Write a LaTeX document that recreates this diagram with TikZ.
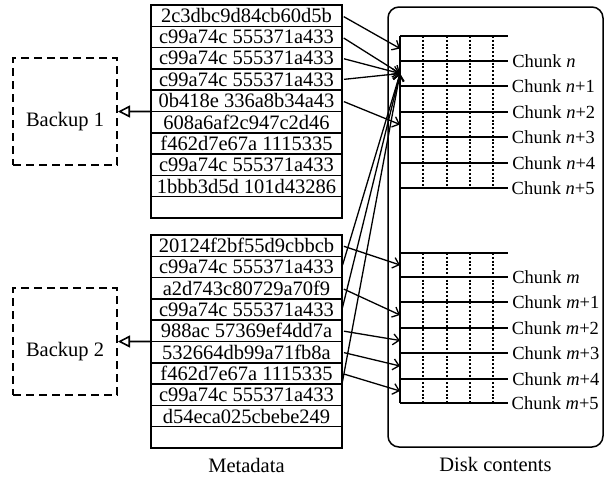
\documentclass[tikz,border=0pt]{standalone}
\usepackage{fontspec}
\setmainfont{Liberation Serif}
\usetikzlibrary{positioning, arrows.meta, calc}

\begin{document}
\begin{tikzpicture}[
        x=1pt, y=-1pt,
        font=\fontsize{20.5pt}{24pt}\selectfont,
        metarow/.style={rectangle, draw=black, line width=1.5pt, minimum width=191pt, minimum height=21.3pt, inner sep=0pt, outer sep=0pt},
        backupbox/.style={rectangle, draw=black, line width=2pt, dash pattern=on 8pt off 5pt, minimum width=104pt, minimum height=107pt},
        diskbox/.style={rectangle, rounded corners=11pt, draw=black, line width=1.5pt, minimum width=215pt, minimum height=440pt, outer sep=0pt},
        chunklbl/.style={anchor=west, inner sep=3pt, font=\fontsize{18.5pt}{22pt}\selectfont},
        thinline/.style={line width=1.4pt},
        thickline/.style={line width=2.6pt},
        midline/.style={line width=1.9pt},
        dotline/.style={line width=2.4pt, dash pattern=on 2pt off 1.8pt},
        arr/.style={-{Straight Barb[length=6pt, width=11pt]}, line width=1.3pt, shorten <=2pt},
        backarr/.style={-{Triangle[open, length=12pt, width=12pt]}, line width=1.6pt},
    ]
        \useasboundingbox (0,0) rectangle (605,479);

        % Metadata of backup 1
        \node[metarow] (t1) at (246.5,15.65) {2c3dbc9d84cb60d5b};
        \node[metarow, below=0pt of t1] (t2) {c99a74c 555371a433};
        \node[metarow, below=0pt of t2] (t3) {c99a74c 555371a433};
        \node[metarow, below=0pt of t3] (t4) {c99a74c 555371a433};
        \node[metarow, below=0pt of t4] (t5) {0b418e 336a8b34a43};
        \node[metarow, below=0pt of t5] (t6) {608a6af2c947c2d46};
        \node[metarow, below=0pt of t6] (t7) {f462d7e67a 1115335};
        \node[metarow, below=0pt of t7] (t8) {c99a74c 555371a433};
        \node[metarow, below=0pt of t8] (t9) {1bbb3d5d 101d43286};
        \node[metarow, below=0pt of t9] (t10) {};

        % Metadata of backup 2
        \node[metarow] (b1) at (246.5,245.65) {20124f2bf55d9cbbcb};
        \node[metarow, below=0pt of b1] (b2) {c99a74c 555371a433};
        \node[metarow, below=0pt of b2] (b3) {a2d743c80729a70f9};
        \node[metarow, below=0pt of b3] (b4) {c99a74c 555371a433};
        \node[metarow, below=0pt of b4] (b5) {988ac 57369ef4dd7a};
        \node[metarow, below=0pt of b5] (b6) {532664db99a71fb8a};
        \node[metarow, below=0pt of b6] (b7) {f462d7e67a 1115335};
        \node[metarow, below=0pt of b7] (b8) {c99a74c 555371a433};
        \node[metarow, below=0pt of b8] (b9) {d54eca025cbebe249};
        \node[metarow, below=0pt of b9] (b10) {};

        \node[below=7pt of b10] (metalbl) {Metadata};

        % Backups
        \node[backupbox, label={[yshift=-10pt]center:Backup 1}] (bk1) at (65,111.5) {};
        \node[backupbox, label={[yshift=-10pt]center:Backup 2}] (bk2) at (65,341.5) {};
        \draw[backarr] (t5.south west) -- (bk1.east);
        \draw[backarr] (b5.south west) -- (bk2.east);

        % Disk
        \node[diskbox] (disk) at (495.5,227) {};
        \node[below=7pt of disk] (disklbl) {Disk contents};
        \draw[thinline] (400,36) -- (400,403);

        % Chunks n ... n+5
        \draw[thinline] (400,36) -- (508,36);
        \draw[thickline] (400,61) -- (508,61) node[chunklbl] (ln0) {Chunk \textit{n}};
        \draw[midline] (400,86) -- (508,86) node[chunklbl] (ln1) {Chunk \textit{n}+1};
        \draw[thickline] (400,112) -- (508,112) node[chunklbl] (ln2) {Chunk \textit{n}+2};
        \draw[midline] (400,137) -- (508,137) node[chunklbl] (ln3) {Chunk \textit{n}+3};
        \draw[thickline] (400,163) -- (508,163) node[chunklbl] (ln4) {Chunk \textit{n}+4};
        \draw[thinline] (400,188) -- (508,188) node[chunklbl] (ln5) {Chunk \textit{n}+5};
        \draw[dotline] (423,36) -- (423,188);
        \draw[dotline] (447,36) -- (447,188);
        \draw[dotline] (470,36) -- (470,188);
        \draw[dotline] (493,36) -- (493,188);

        % Chunks m ... m+5
        \draw[thinline] (400,253) -- (508,253);
        \draw[thickline] (400,277) -- (508,277) node[chunklbl] (lm0) {Chunk \textit{m}};
        \draw[thickline] (400,302) -- (508,302) node[chunklbl] (lm1) {Chunk \textit{m}+1};
        \draw[midline] (400,328) -- (508,328) node[chunklbl] (lm2) {Chunk \textit{m}+2};
        \draw[thickline] (400,353) -- (508,353) node[chunklbl] (lm3) {Chunk \textit{m}+3};
        \draw[thickline] (400,379) -- (508,379) node[chunklbl] (lm4) {Chunk \textit{m}+4};
        \draw[thinline] (400,403) -- (508,403) node[chunklbl] (lm5) {Chunk \textit{m}+5};
        \draw[dotline] (423,253) -- (423,403);
        \draw[dotline] (447,253) -- (447,403);
        \draw[dotline] (470,253) -- (470,403);
        \draw[dotline] (493,253) -- (493,403);

        % Arrow targets on the disk
        \coordinate (tn0) at (400,48.5);
        \coordinate (tn1) at (400,73.5);
        \coordinate (tn3) at (400,124.5);
        \coordinate (tm0) at (400,265);
        \coordinate (tm2) at (400,315);
        \coordinate (tm3) at (400,340.5);
        \coordinate (tm4) at (400,366);
        \coordinate (tm5) at (400,391);

        % Arrows: metadata to chunks
        \draw[arr] (t1.east) -- (tn0);
        \draw[arr] (t2.east) -- (tn1);
        \draw[arr] (t3.east) -- (tn1);
        \draw[arr] (t4.east) -- (tn1);
        \draw[arr] (t5.east) -- (tn3);
        \draw[arr] (b2.east) -- (tn1);
        \draw[arr] (b4.east) -- (tn1);
        \draw[arr] (b8.north east) -- (tn1);
        \draw[arr] (b1.east) -- (tm0);
        \draw[arr] (b3.east) -- (tm2);
        \draw[arr] (b5.east) -- (tm3);
        \draw[arr] (b6.east) -- (tm4);
        \draw[arr] (b7.east) -- (tm5);
    \end{tikzpicture}
\end{document}
